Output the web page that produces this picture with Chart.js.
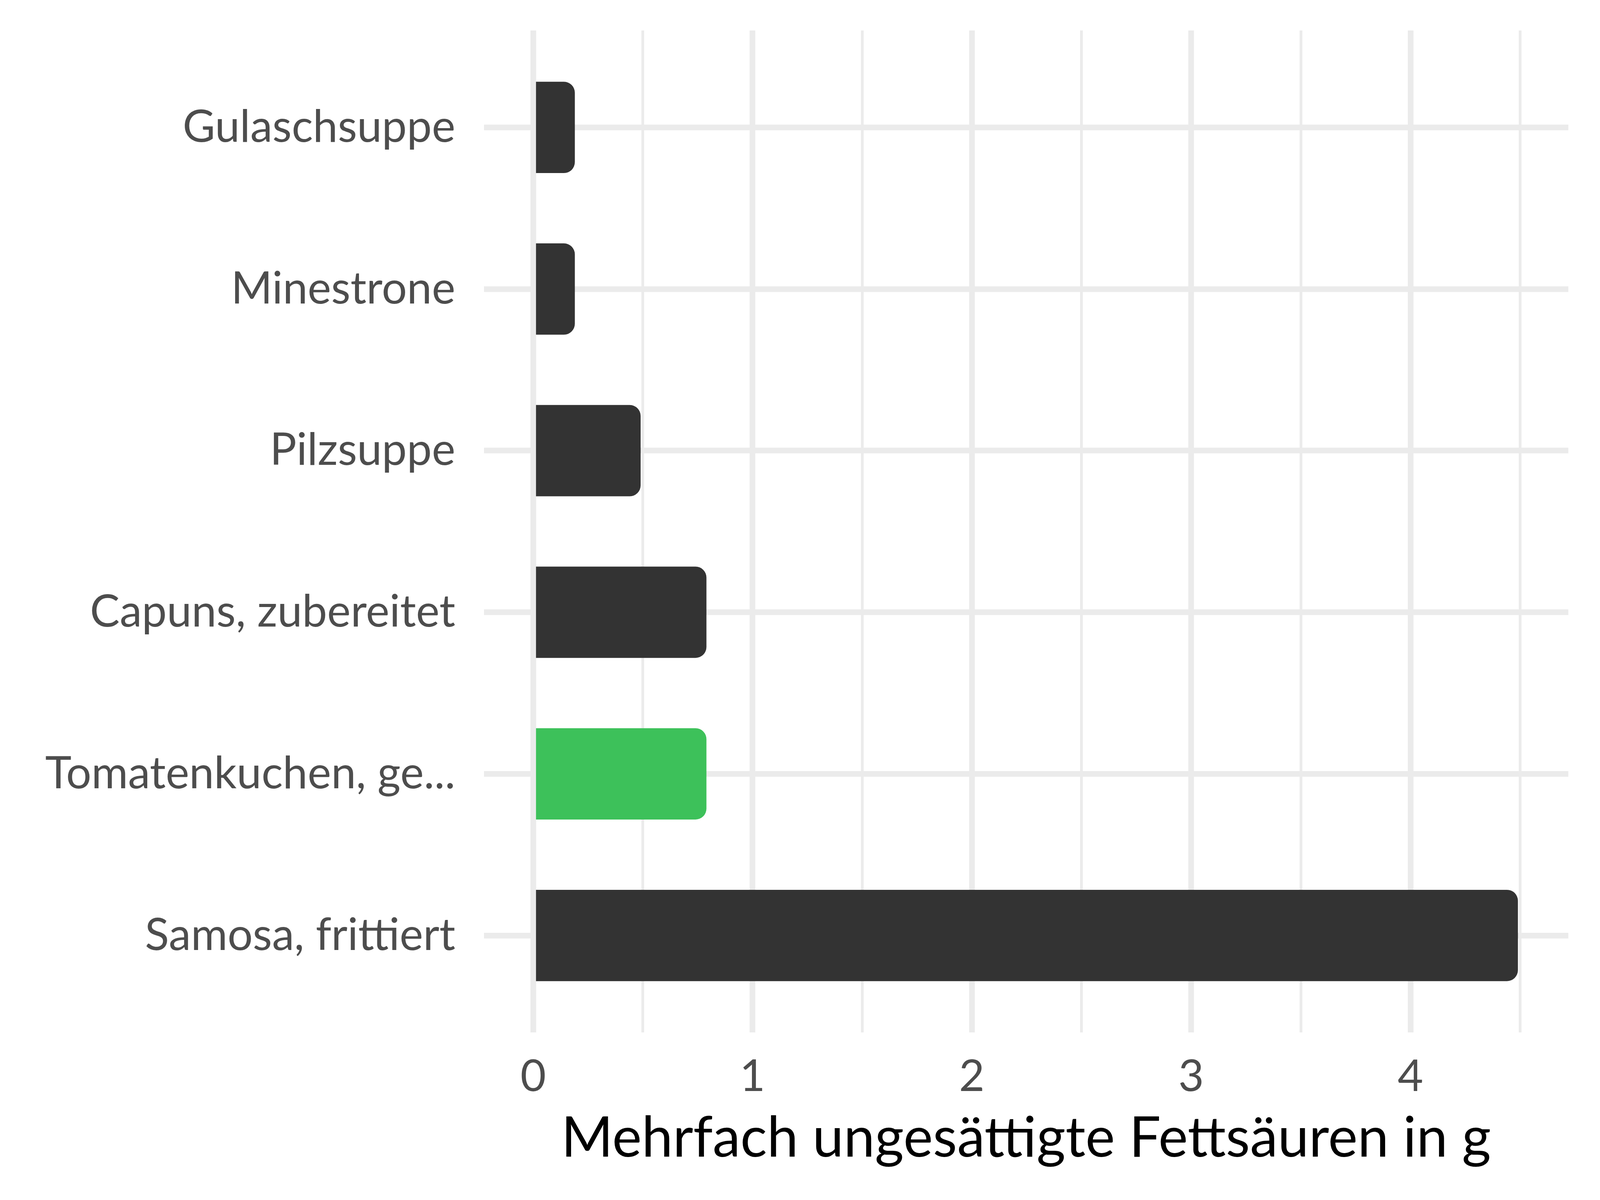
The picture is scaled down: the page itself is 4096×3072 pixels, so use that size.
<!DOCTYPE html>
<html><head><meta charset="utf-8">
<script src="https://cdn.jsdelivr.net/npm/chart.js@4"></script>
<style>html,body{margin:0;padding:0;background:#fff}#wrap{width:4096px;height:3072px}</style>
</head><body><div id="wrap"><canvas id="c" width="4096" height="3072"></canvas></div>
<script>
const categories = ["Gulaschsuppe", "Minestrone", "Pilzsuppe", "Capuns, zubereitet", "Tomatenkuchen, ge...", "Samosa, frittiert"];
const values = [0.19, 0.19, 0.49, 0.79, 0.79, 4.49];
const highlight = [false, false, false, false, true, false];
const xTicks = [0, 1, 2, 3, 4];
const xMinor = [0.5, 1.5, 2.5, 3.5, 4.5];
const xTitle = "Mehrfach ungesättigte Fettsäuren in g";

const DARK = '#333333', GREEN = '#3dc15a', GRID = '#ebebeb', TXT = '#4d4d4d';
const FONT = 'Lato';

new Chart(document.getElementById('c'), {
  type: 'bar',
  data: {
    datasets: [{
      data: values.map((v, i) => ({x: v, y: i})),
      backgroundColor: highlight.map(h => h ? GREEN : DARK),
      borderRadius: 28,
      borderSkipped: 'start',
      barPercentage: 0.565,
      categoryPercentage: 1
    }]
  },
  options: {
    indexAxis: 'y',
    responsive: false,
    devicePixelRatio: 1,
    animation: false,
    layout: {padding: {top: 78, right: 81, left: 0, bottom: 0}},
    plugins: {legend: {display: false}, tooltip: {enabled: false}},
    scales: {
      x: {
        type: 'linear', position: 'bottom', min: -0.225, max: 4.72,
        afterBuildTicks: s => { s.ticks = xTicks.concat(xMinor).sort((a, b) => a - b).map(v => ({value: v})); },
        afterFit: s => { s.height = 3072 - 2643; s.paddingLeft = 0; s.paddingRight = 0; },
        grid: {color: GRID, drawTicks: false,
          lineWidth: ctx => (ctx.tick && Number.isInteger(ctx.tick.value)) ? 14.5 : 7},
        border: {display: false},
        ticks: {
          callback: v => xTicks.includes(v) ? String(v) : '',
          autoSkip: false, maxRotation: 0, padding: 46,
          color: TXT, font: {family: FONT, size: 113, lineHeight: 1.2}
        },
        title: {display: true, text: xTitle, color: '#000000',
          font: {family: FONT, size: 143, lineHeight: 1}, padding: {top: 0, bottom: 86}}
      },
      y: {
        type: 'linear', reverse: true, min: -0.6, max: 5.6, offset: false,
        afterBuildTicks: s => { s.ticks = categories.map((c, i) => ({value: i})); },
        afterFit: s => { s.width = 1238.6; s.paddingTop = 0; s.paddingBottom = 0; },
        grid: {color: GRID, drawTicks: false, lineWidth: 14.5, offset: false},
        border: {display: false},
        ticks: {
          callback: v => categories[v],
          autoSkip: false, padding: 73,
          color: TXT, font: {family: FONT, size: 114, lineHeight: 1.2}
        }
      }
    }
  }
});
</script></body></html>
